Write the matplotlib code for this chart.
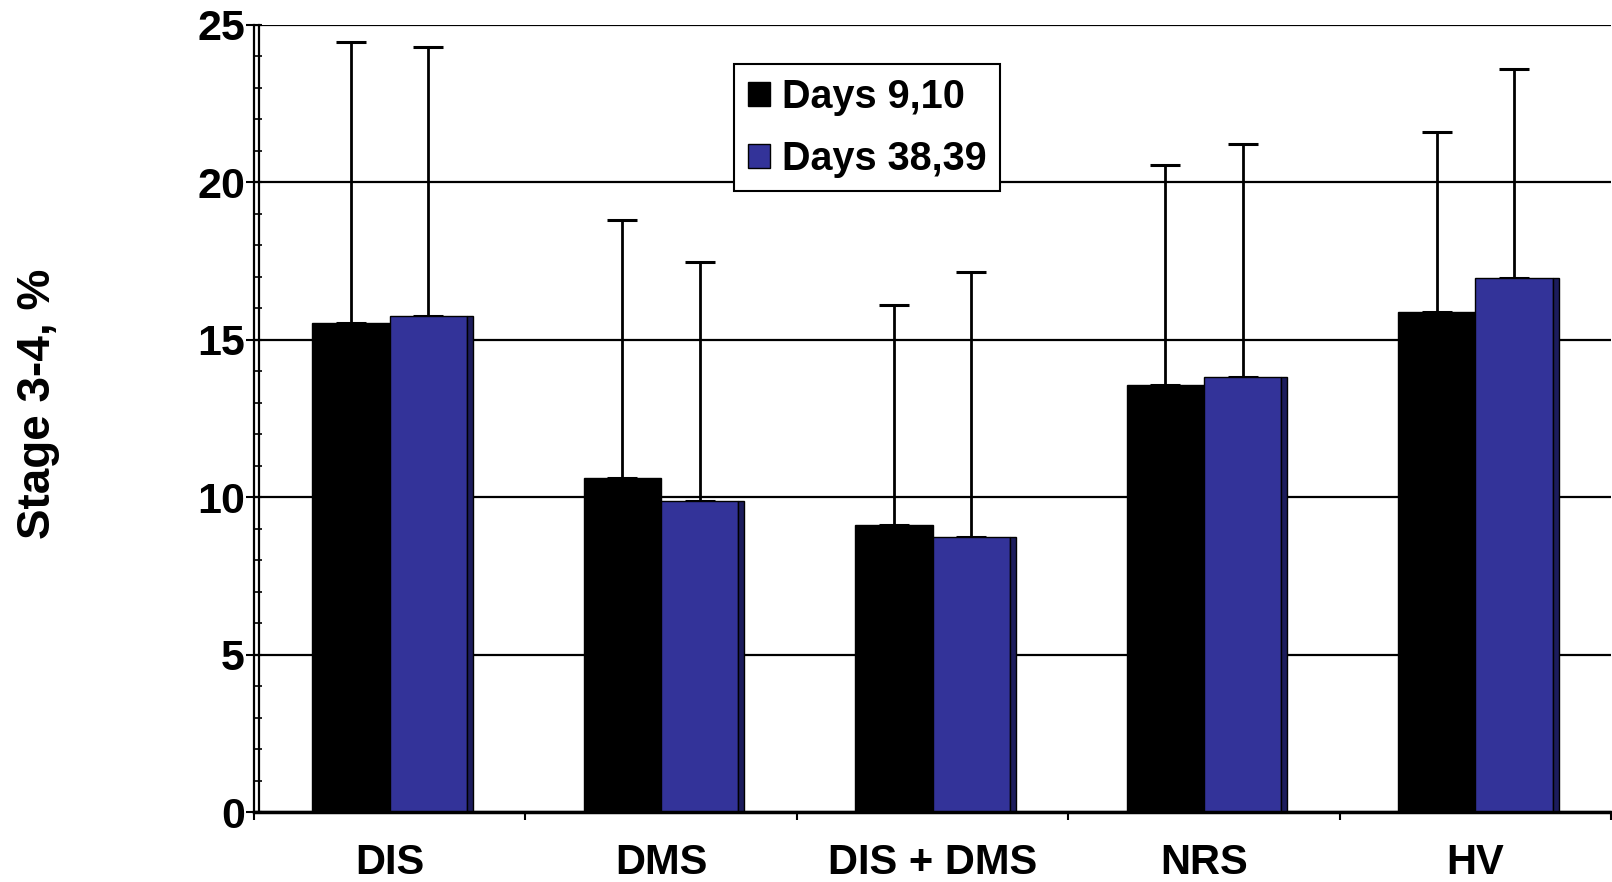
import numpy as np
import matplotlib
matplotlib.use("Agg")
import matplotlib.pyplot as plt
import matplotlib.transforms as mtransforms
from matplotlib.patches import Patch
from matplotlib.ticker import MultipleLocator

# sleep stage 3-4 share per group, mean and SD
groups = ["DIS", "DMS", "DIS + DMS", "NRS", "HV"]
days_9_10 = [15.54, 10.60, 9.11, 13.56, 15.89]
days_9_10_sd = [8.92, 8.19, 7.00, 6.97, 5.70]
days_38_39 = [15.76, 9.88, 8.74, 13.82, 16.95]
days_38_39_sd = [8.53, 7.59, 8.41, 7.38, 6.63]
series_names = ["Days 9,10", "Days 38,39"]

BLUE = "#333399"
SIDE = "#1c1c5c"
font = ["Liberation Sans", "DejaVu Sans"]

fig = plt.figure(figsize=(16.12, 8.82), dpi=100)
ax = fig.add_axes([254 / 1612, 70 / 882, (1611 - 254) / 1612, (812 - 24.7) / 882])

x = np.arange(len(groups))
w = 0.285
strip = 0.022

ax.bar(x - w / 2, days_9_10, width=w, color="black", edgecolor="black", lw=1, zorder=2)
ax.bar(x + w / 2, days_38_39, width=w, color=BLUE, edgecolor="black", lw=1, zorder=2)
# dark side face on the right of each blue bar
ax.bar(x + w + strip / 2, days_38_39, width=strip, color=SIDE, edgecolor="black", lw=1, zorder=2)

ax.errorbar(x - w / 2, days_9_10, yerr=[np.zeros(len(x)), days_9_10_sd], fmt="none",
            ecolor="black", elinewidth=2, capsize=11, capthick=2.2, zorder=1)
ax.errorbar(x + w / 2, days_38_39, yerr=[np.zeros(len(x)), days_38_39_sd], fmt="none",
            ecolor="black", elinewidth=2, capsize=11, capthick=2.2, zorder=1)

ax.set_xlim(-0.5, len(groups) - 0.5)
ax.set_ylim(0, 25)

ax.yaxis.set_major_locator(MultipleLocator(5))
ax.yaxis.set_minor_locator(MultipleLocator(1))
ax.yaxis.grid(True, which="major", color="black", lw=1.6, zorder=0)
ax.set_axisbelow(True)

ax.set_xticks(np.arange(len(groups) + 1) - 0.5)
ax.set_xticklabels([])
ax.set_xticks(x, minor=True)
ax.set_xticklabels(groups, minor=True, fontsize=30, fontweight="bold", family=font)
ax.tick_params(axis="x", which="major", direction="out", length=6, width=1.5)
ax.tick_params(axis="x", which="minor", length=0, pad=22)

ax.tick_params(axis="y", which="major", direction="inout", length=12, width=1.5, pad=0.5)
ax.tick_params(axis="y", which="minor", direction="in", length=6, width=1.2)
for lab in ax.get_yticklabels():
    lab.set_fontsize(31)
    lab.set_fontweight("bold")
    lab.set_family(font)

for side in ("top", "right"):
    ax.spines[side].set_visible(False)
ax.spines["bottom"].set_linewidth(2.5)
ax.spines["left"].set_linewidth(1.6)

# second vertical line just inside the value axis
inner = mtransforms.offset_copy(ax.transAxes, fig=fig, x=5, y=0, units="dots")
ax.plot([0, 0], [0, 1], transform=inner, color="black", lw=1.6, clip_on=False, zorder=3)

fig.text(38 / 1612, 1 - 404 / 882, "Stage 3-4, %", rotation=90, ha="center", va="center",
         fontsize=33, fontweight="bold", family=font)

handles = [Patch(facecolor="black", edgecolor="black"),
           Patch(facecolor=BLUE, edgecolor="black")]
leg = fig.legend(handles, series_names, loc="upper left",
                 bbox_to_anchor=(734 / 1612, 1 - 64 / 882), fancybox=False,
                 prop={"family": font, "weight": "bold", "size": 28.5},
                 handlelength=0.55, handleheight=0.55, handletextpad=0.3,
                 borderpad=0.35, labelspacing=0.6, borderaxespad=0, framealpha=1)
leg.get_frame().set_edgecolor("black")
leg.get_frame().set_linewidth(1.5)

fig.savefig("out.png", dpi=100)
